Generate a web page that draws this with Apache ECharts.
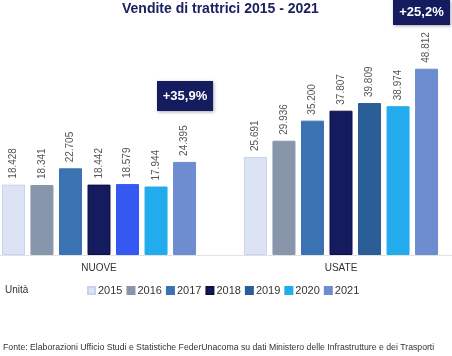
<!DOCTYPE html>
<html>
<head>
<meta charset="utf-8">
<script src="https://cdn.jsdelivr.net/npm/echarts@6/dist/echarts.min.js"></script>
<style>html,body{margin:0;padding:0;background:#fff}#c{width:452px;height:356px}</style>
</head>
<body>
<div id="c"></div>
<script>
var categories = ['NUOVE', 'USATE'];
var years = ['2015', '2016', '2017', '2018', '2019', '2020', '2021'];
var v2015 = [18428, 25691];
var v2016 = [18341, 29936];
var v2017 = [22705, 35200];
var v2018 = [18442, 37807];
var v2019 = [18579, 39809];
var v2020 = [17944, 38974];
var v2021 = [24395, 48812];
var badges = ['+35,9%', '+25,2%'];

var values = [v2015, v2016, v2017, v2018, v2019, v2020, v2021];
var colors = ['#dce3f4', '#8896ac', '#3a72b2', '#141b5e', '#2b5d96', '#22acee', '#6d8dd0'];
var borders = ['#c8d1ee', '#8896ac', '#3a72b2', '#0b1140', '#2b5d96', '#22acee', '#6d8dd0'];
var font = 'Liberation Sans, Arial, sans-serif';

function fmt(n) { return String(n).replace(/\B(?=(\d{3})+(?!\d))/g, '.'); }

var series = years.map(function (y, i) {
  return {
    name: y,
    type: 'bar',
    barWidth: 23,
    barGap: '24%',
    barCategoryGap: '20%',
    data: values[i].map(function (v, j) {
      var d = { value: v };
      if (i === 4 && j === 0) d.itemStyle = { color: '#3558f2', borderColor: '#3558f2' };
      return d;
    }),
    itemStyle: { color: colors[i], borderColor: borders[i], borderWidth: 1 },
    label: {
      show: true,
      position: 'top',
      rotate: 90,
      align: 'left',
      verticalAlign: 'middle',
      distance: 6,
      fontSize: 10,
      color: '#555',
      fontFamily: font,
      formatter: function (p) { return fmt(p.value); }
    },
    emphasis: { disabled: true }
  };
});

var chart = echarts.init(document.getElementById('c'));
chart.setOption({
  animation: false,
  title: {
    text: 'Vendite di trattrici 2015 - 2021',
    left: 117,
    top: -3,
    textStyle: { fontSize: 14, fontWeight: 'bold', color: '#1c2160', fontFamily: font }
  },
  legend: {
    data: years,
    left: 82,
    top: 280,
    itemWidth: 7,
    itemHeight: 7,
    itemGap: 4,
    icon: 'rect',
    textStyle: { fontSize: 11, color: '#333', fontFamily: font, padding: [0, 0, 0, -2] }
  },
  grid: { left: -22, width: 484, top: 26, bottom: 101, containLabel: false, outerBoundsMode: 'none' },
  xAxis: {
    type: 'category',
    data: categories,
    axisLine: { show: true, lineStyle: { color: '#e2e2e2', width: 1 } },
    axisTick: { show: false },
    axisLabel: { fontSize: 10, color: '#333', fontFamily: font, margin: 8 }
  },
  yAxis: {
    type: 'value',
    min: 0,
    max: 60000,
    show: false,
    splitLine: { show: false }
  },
  series: series,
  graphic: [
    {
      type: 'group', left: 157, top: 81,
      children: [
        { type: 'rect', shape: { x: 0, y: 0, width: 56, height: 30 }, style: { fill: '#141b5e', shadowBlur: 3, shadowOffsetX: 1, shadowOffsetY: 1, shadowColor: 'rgba(0,0,0,0.35)' } },
        { type: 'text', x: 28, y: 15, style: { text: badges[0], fill: '#fff', fontSize: 13, fontWeight: 'bold', fontFamily: font, align: 'center', verticalAlign: 'middle' } }
      ]
    },
    {
      type: 'group', left: 393, top: 0,
      children: [
        { type: 'rect', shape: { x: 0, y: 0, width: 57, height: 25 }, style: { fill: '#141b5e', shadowBlur: 3, shadowOffsetX: 1, shadowOffsetY: 1, shadowColor: 'rgba(0,0,0,0.35)' } },
        { type: 'text', x: 28.5, y: 12, style: { text: badges[1], fill: '#fff', fontSize: 13, fontWeight: 'bold', fontFamily: font, align: 'center', verticalAlign: 'middle' } }
      ]
    },
    { type: 'text', left: 5, top: 285, style: { text: 'Unità', fill: '#333', fontSize: 10, fontFamily: font } },
    { type: 'text', left: 3, top: 343, style: { text: 'Fonte: Elaborazioni Ufficio Studi e Statistiche FederUnacoma su dati Ministero delle Infrastrutture e dei Trasporti', fill: '#333', fontSize: 8.7, fontFamily: font } }
  ]
});
</script>
</body>
</html>
